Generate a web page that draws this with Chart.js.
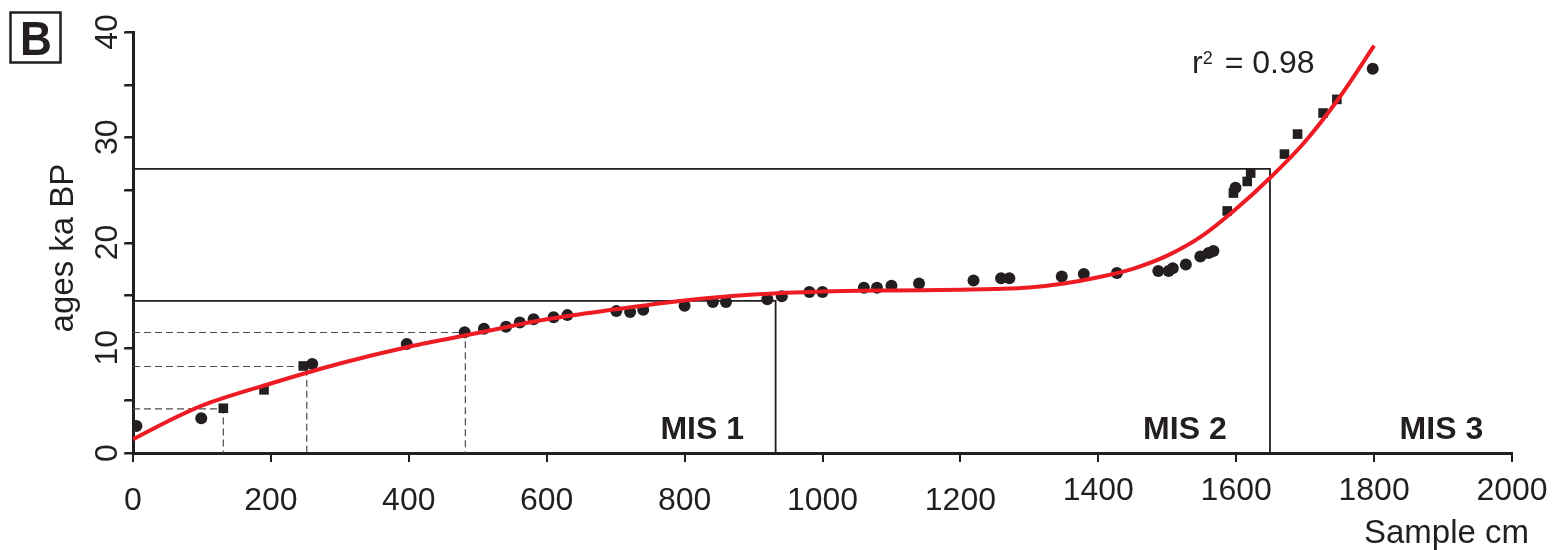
<!DOCTYPE html>
<html lang="en">
<head>
    <meta charset="UTF-8">
    <title>Age model B</title>
    <script src="https://cdn.jsdelivr.net/npm/chart.js"></script>
    <style>
        html, body {
            margin: 0;
            padding: 0;
            background: #ffffff;
        }
        #wrap {
            width: 1556px;
            height: 550px;
        }
    </style>
</head>
<body>
    <div id="wrap">
        <canvas id="ageChart" width="1556" height="550"></canvas>
    </div>

    <script>
        // dated samples: circles
        const circleDepth = [5, 99, 260, 397, 481, 509, 541, 561, 581, 610, 630, 701, 721, 740, 800, 841, 860, 920, 941, 981,
                             1000, 1060, 1079, 1100, 1140, 1219, 1259, 1271, 1347, 1379, 1427, 1487, 1502, 1508, 1527, 1548,
                             1560, 1567, 1599, 1798];
        const circleAge = [2.57, 3.3, 8.46, 10.36, 11.47, 11.8, 12.0, 12.4, 12.7, 12.9, 13.1, 13.5, 13.4, 13.6, 14.0, 14.35, 14.35, 14.6, 14.9, 15.3,
                           15.3, 15.7, 15.7, 15.9, 16.1, 16.4, 16.6, 16.6, 16.76, 17.0, 17.1, 17.3, 17.3, 17.55, 17.9, 18.66,
                           19.0, 19.2, 25.2, 36.5];

        // dated samples: squares
        const squareDepth = [131, 190, 247, 1587, 1596, 1616, 1621, 1670, 1689, 1726, 1746];
        const squareAge = [4.25, 6.0, 8.27, 23.0, 24.7, 25.8, 26.6, 28.4, 30.3, 32.3, 33.6];

        // fitted curve
        const fitDepth = [0, 50, 100, 200, 300, 400, 500, 600, 700, 800, 900, 1000, 1100, 1200, 1250, 1300, 1350, 1400, 1450,
                          1500, 1550, 1600, 1650, 1700, 1750, 1800];
        const fitAge = [1.3, 3.0, 4.5, 6.6, 8.5, 10.1, 11.4, 12.7, 13.65, 14.5, 15.05, 15.35, 15.45, 15.5, 15.58, 15.72, 16.1, 16.7, 17.5,
                        18.75, 20.6, 23.2, 26.2, 29.6, 33.8, 38.7];

        // MIS boundaries (solid) and reading guides (dashed)
        const mis23X = [0, 1649, 1649];
        const mis23Y = [27, 27, 0];
        const mis12X = [0, 932, 932];
        const mis12Y = [14.45, 14.45, 0];
        const guideAX = [0, 482, 482];
        const guideAY = [11.45, 11.45, 0];
        const guideBX = [0, 252, 252];
        const guideBY = [8.22, 8.22, 0];
        const guideCX = [0, 131, 131];
        const guideCY = [4.2, 4.2, 0];

        // axes
        const xTicks = [0, 200, 400, 600, 800, 1000, 1200, 1400, 1600, 1800, 2000];
        const yTicks = [0, 10, 20, 30, 40];

        // annotations
        const misLabels = ['MIS 1', 'MIS 2', 'MIS 3'];
        const misLabelX = [765, 1465, 1837];

        const INK = '#231f20';
        const RED = '#ed1c24';
        const FONT = '"Liberation Sans", Arial, Helvetica, sans-serif';

        function toPoints(xs, ys) {
            return xs.map((x, i) => ({ x: x, y: ys[i] }));
        }

        function guideLine(xs, ys, dashed) {
            return {
                data: toPoints(xs, ys),
                showLine: true,
                borderColor: dashed ? '#4d4d4f' : INK,
                borderWidth: dashed ? 1.2 : 1.8,
                borderDash: dashed ? [7, 4] : [],
                pointRadius: 0,
                tension: 0,
                order: 3
            };
        }

        // texts drawn on top of the chart
        const textPlugin = {
            id: 'texts',
            afterDraw(chart) {
                const ctx = chart.ctx;
                const xs = chart.scales.x;
                const ys = chart.scales.y;
                ctx.save();
                ctx.fillStyle = INK;
                ctx.strokeStyle = INK;

                // y tick marks every 5
                ctx.lineWidth = 2;
                for (let v = 0; v <= 40; v += 5) {
                    const py = Math.round(ys.getPixelForValue(v)) + 0.5;
                    ctx.beginPath();
                    ctx.moveTo(124, py);
                    ctx.lineTo(133, py);
                    ctx.stroke();
                }

                // x tick labels
                ctx.font = '32px ' + FONT;
                ctx.textAlign = 'center';
                ctx.textBaseline = 'alphabetic';
                xTicks.forEach(v => {
                    const base = v >= 1400 ? 500 : 510;
                    ctx.fillText(String(v), xs.getPixelForValue(v), base);
                });

                // y tick labels (rotated)
                yTicks.forEach(v => {
                    ctx.save();
                    ctx.translate(117, ys.getPixelForValue(v));
                    ctx.rotate(-Math.PI / 2);
                    ctx.fillText(String(v), 0, 0);
                    ctx.restore();
                });

                // axis titles
                ctx.font = '33px ' + FONT;
                ctx.save();
                ctx.translate(73, 248);
                ctx.rotate(-Math.PI / 2);
                ctx.textAlign = 'center';
                ctx.fillText('ages ka BP', 0, 0);
                ctx.restore();

                ctx.textAlign = 'right';
                ctx.fillText('Sample cm', 1529, 543);

                // MIS labels
                ctx.font = 'bold 32px ' + FONT;
                ctx.textAlign = 'left';
                const misBase = ys.getPixelForValue(0) - 14;
                misLabels.forEach((t, i) => {
                    ctx.fillText(t, xs.getPixelForValue(misLabelX[i]), misBase);
                });

                // r2
                ctx.font = '32px ' + FONT;
                let rx = xs.getPixelForValue(1536);
                const rb = ys.getPixelForValue(36.1);
                ctx.fillText('r', rx, rb);
                rx += ctx.measureText('r').width;
                ctx.font = '18px ' + FONT;
                ctx.fillText('2', rx, rb - 9);
                rx += ctx.measureText('2').width;
                ctx.font = '32px ' + FONT;
                ctx.fillText(' = 0.98', rx + 3, rb);

                // panel letter
                ctx.lineWidth = 2.5;
                ctx.strokeRect(10.5, 12.5, 50, 50);
                ctx.font = 'bold 49px ' + FONT;
                ctx.textAlign = 'center';
                ctx.save();
                ctx.translate(36, 55);
                ctx.scale(0.9, 1);
                ctx.fillText('B', 0, 0);
                ctx.restore();

                ctx.restore();
            }
        };

        const ctx = document.getElementById('ageChart').getContext('2d');
        new Chart(ctx, {
            type: 'scatter',
            data: {
                datasets: [
                    {
                        data: toPoints(fitDepth, fitAge),
                        showLine: true,
                        borderColor: RED,
                        borderWidth: 4,
                        cubicInterpolationMode: 'monotone',
                        pointRadius: 0,
                        order: 0
                    },
                    {
                        data: toPoints(circleDepth, circleAge),
                        pointStyle: 'circle',
                        pointRadius: 6,
                        backgroundColor: INK,
                        borderWidth: 0,
                        order: 1
                    },
                    {
                        data: toPoints(squareDepth, squareAge),
                        pointStyle: 'rect',
                        pointRadius: 6.8,
                        backgroundColor: INK,
                        borderWidth: 0,
                        order: 1
                    },
                    guideLine(mis23X, mis23Y, false),
                    guideLine(mis12X, mis12Y, false),
                    guideLine(guideAX, guideAY, true),
                    guideLine(guideBX, guideBY, true),
                    guideLine(guideCX, guideCY, true)
                ]
            },
            options: {
                responsive: false,
                animation: false,
                devicePixelRatio: 1,
                events: [],
                layout: {
                    padding: { top: 32, right: 44, left: 0, bottom: 0 }
                },
                plugins: {
                    legend: { display: false },
                    tooltip: { enabled: false }
                },
                scales: {
                    x: {
                        type: 'linear',
                        min: 0,
                        max: 2000,
                        ticks: { stepSize: 200, display: false },
                        grid: {
                            drawOnChartArea: false,
                            drawTicks: true,
                            tickLength: 9,
                            color: INK,
                            lineWidth: 2
                        },
                        border: { color: INK, width: 3 },
                        afterFit(scale) { scale.height = 97; }
                    },
                    y: {
                        min: 0,
                        max: 40,
                        ticks: { stepSize: 5, display: false },
                        grid: {
                            drawOnChartArea: false,
                            drawTicks: true,
                            tickLength: 8,
                            color: INK,
                            lineWidth: 2
                        },
                        border: { color: INK, width: 3 },
                        afterFit(scale) { scale.width = 133; }
                    }
                }
            },
            plugins: [textPlugin]
        });
    </script>
</body>
</html>
